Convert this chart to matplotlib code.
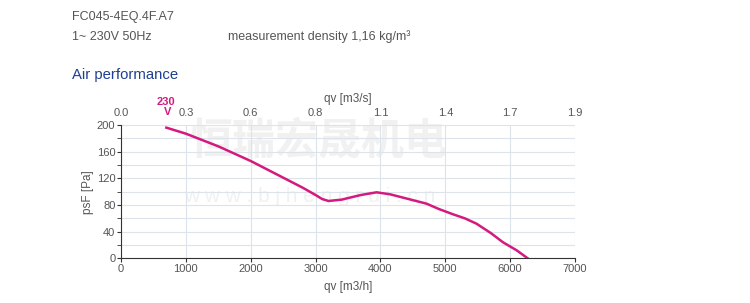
import numpy as np
import matplotlib.pyplot as plt
from matplotlib.ticker import MultipleLocator

# curve
qv_m3h = [700, 1000, 1500, 2000, 2500, 2800, 3000, 3100, 3200, 3400, 3700, 3940, 4150, 4350, 4710,
          4900, 5120, 5300, 5480, 5700, 5890, 6100, 6270]
psf_pa = [196, 187, 168, 146, 121, 106, 95, 89, 86, 88, 95, 99, 96, 91, 82,
          74, 66, 60, 52, 38, 24, 12, 0]

x_ticks = [0, 1000, 2000, 3000, 4000, 5000, 6000, 7000]
top_labels = ['0.0', '0.3', '0.6', '0.8', '1.1', '1.4', '1.7', '1.9']
y_ticks = [0, 40, 80, 120, 160, 200]

plt.rcParams['font.family'] = ['Liberation Sans', 'DejaVu Sans']
gray = '#555555'
pink = '#d4197f'

fig = plt.figure(figsize=(7.5, 3.03), dpi=100)
ax = fig.add_axes([0.1613, 0.1475, 0.6054, 0.44])
ax.set_zorder(2)
ax.patch.set_alpha(0)

# header text
fig.text(72/750, 1 - 17/303, 'FC045-4EQ.4F.A7', fontsize=9, color=gray, va='center')
fig.text(72/750, 1 - 37/303, '1~ 230V 50Hz', fontsize=9, color=gray, va='center')
fig.text(228/750, 1 - 37/303, 'measurement density 1,16 kg/m³', fontsize=9, color=gray, va='center')
fig.text(72/750, 1 - 75/303, 'Air performance', fontsize=10.7, color='#1f3f8f', va='center')

# watermark
fig.text(318/750, 1 - 140/303, '恒瑞宏晟机电', fontsize=31, color='#f1f1f1',
         family=['Noto Sans CJK SC'], weight='bold', ha='center', va='center', zorder=-1)
fig.text(310/750, 1 - 197/303, 'w w w . b j h e n g r u i . c n', fontsize=15, color='#f1f1f1',
         ha='center', va='center', zorder=-1)

ax.plot(qv_m3h, psf_pa, color=pink, lw=1.8, zorder=3)

ax.set_xlim(0, 7000)
ax.set_ylim(0, 200)
ax.set_xticks(x_ticks)
ax.set_yticks(y_ticks)
ax.yaxis.set_minor_locator(MultipleLocator(20))
ax.grid(True, which='both', color='#dde3ea', lw=0.8)
ax.set_axisbelow(True)
for s in ['top', 'right']:
    ax.spines[s].set_visible(False)
for s in ['left', 'bottom']:
    ax.spines[s].set_color('#333333')
ax.tick_params(axis='both', which='both', labelsize=8, labelcolor=gray, color='#333333', length=3, pad=1)
ax.set_xlabel('qv [m3/h]', fontsize=8.5, color=gray, labelpad=5)
ax.set_ylabel('psF [Pa]', fontsize=8.5, color=gray, labelpad=2)

top = ax.twiny()
top.set_xlim(ax.get_xlim())
top.set_xticks(x_ticks)
top.set_xticklabels(top_labels)
top.tick_params(length=0, labelsize=8, labelcolor=gray, pad=5)
for s in top.spines.values():
    s.set_visible(False)
top.set_xlabel('qv [m3/s]', fontsize=8.5, color=gray, labelpad=4)

ax.text(700, 235, '230', color=pink, fontsize=8, weight='bold', ha='center', va='center', clip_on=False)
ax.text(720, 219, 'V', color=pink, fontsize=8, weight='bold', ha='center', va='center', clip_on=False)

fig.savefig('out.png', dpi=100)
